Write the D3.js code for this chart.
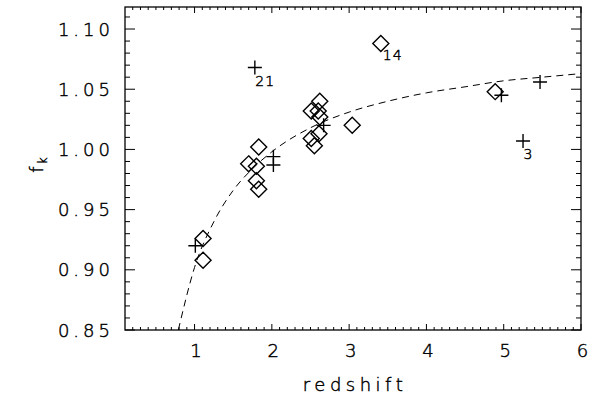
<!DOCTYPE html>
<html>
<head>
<meta charset="utf-8">
<script src="https://cdn.jsdelivr.net/npm/d3@7"></script>
<style>
  body { margin: 0; background: #fff; }
  text { font-family: "DejaVu Sans", sans-serif; font-weight: 200; fill: #000; stroke: #000; stroke-width: 0.45px; }
</style>
</head>
<body>
<svg id="chart"></svg>
<script>
// diamonds (redshift, f_k)
const diamondZ = [1.11, 1.11, 1.70, 1.80, 1.83, 1.80, 1.83, 2.62, 2.51, 2.60, 2.62, 2.61, 2.51, 2.55, 3.04, 3.41, 4.89];
const diamondF = [0.926, 0.908, 0.988, 0.986, 1.002, 0.974, 0.967, 1.040, 1.032, 1.032, 1.027, 1.013, 1.009, 1.003, 1.020, 1.088, 1.048];
const diamondLabel = ["", "", "", "", "", "", "", "", "", "", "", "", "", "", "", "14", ""];
// crosses
const crossZ = [1.01, 1.78, 2.02, 2.02, 2.67, 4.97, 5.47, 5.25];
const crossF = [0.920, 1.068, 0.994, 0.987, 1.020, 1.045, 1.056, 1.007];
const crossLabel = ["", "21", "", "", "", "", "", "3"];
// dashed model curve
const curveZ = [0.79, 1.0, 1.25, 1.5, 1.75, 2.0, 2.5, 3.0, 3.5, 4.0, 4.5, 5.0, 5.5, 6.0];
const curveF = [0.850, 0.902, 0.940, 0.966, 0.984, 0.998, 1.018, 1.031, 1.040, 1.047, 1.052, 1.057, 1.060, 1.063];
const xTicks = [1, 2, 3, 4, 5, 6];
const yTicks = [0.85, 0.90, 0.95, 1.00, 1.05, 1.10];

var w = 592, h = 409;
var pL = 125, pR = 581, pT = 7, pB = 330;
var svg = d3.select("#chart").attr("width", w).attr("height", h);

var x = d3.scaleLinear().domain([0.1, 6]).range([pL, pR]);
var y = d3.scaleLinear().domain([0.85, 1.1183]).range([pB, pT]);

// clip
svg.append("clipPath").attr("id", "clip")
  .append("rect").attr("x", pL).attr("y", pT)
  .attr("width", pR - pL).attr("height", pB - pT);

// ticks (inward, all four sides)
var xMinor = d3.range(2, 61).map(d => d / 10);
var yMinor = d3.range(85, 112).map(d => d / 100);
var tk = svg.append("g").attr("stroke", "#000").attr("stroke-width", 1);
xMinor.forEach(v => {
  var major = Math.abs(v - Math.round(v)) < 1e-6;
  var len = major ? 6 : 3;
  tk.append("line").attr("x1", x(v)).attr("x2", x(v)).attr("y1", pB).attr("y2", pB - len);
  tk.append("line").attr("x1", x(v)).attr("x2", x(v)).attr("y1", pT).attr("y2", pT + len);
});
yMinor.forEach(v => {
  var major = Math.abs(v * 20 - Math.round(v * 20)) < 1e-6;
  var len = major ? 10 : 5;
  tk.append("line").attr("y1", y(v)).attr("y2", y(v)).attr("x1", pL).attr("x2", pL + len);
  tk.append("line").attr("y1", y(v)).attr("y2", y(v)).attr("x1", pR).attr("x2", pR - len);
});

svg.append("rect").attr("x", pL).attr("y", pT)
  .attr("width", pR - pL).attr("height", pB - pT)
  .attr("fill", "none").attr("stroke", "#000").attr("stroke-width", 1.3);

// tick labels
svg.selectAll(".xt").data(xTicks).enter().append("text")
  .attr("x", d => x(d) + 1.5).attr("y", 357)
  .attr("text-anchor", "middle").attr("font-size", 18)
  .text(d => d);
svg.selectAll(".yt").data(yTicks).enter().append("text")
  .attr("x", 114).attr("y", d => y(d) + 6.5)
  .attr("text-anchor", "end").attr("font-size", 18)
  .attr("letter-spacing", 4)
  .text(d => d.toFixed(2));

svg.append("text").attr("x", (pL + pR) / 2 + 2).attr("y", 391)
  .attr("text-anchor", "middle").attr("font-size", 18)
  .attr("letter-spacing", 4.5).text("redshift");
var yl = svg.append("text").attr("transform", "translate(43,165) rotate(-90)")
  .attr("text-anchor", "middle").attr("font-size", 18);
yl.append("tspan").text("f");
yl.append("tspan").attr("font-size", 12).attr("dx", 2).attr("dy", 4).text("k");

var plot = svg.append("g").attr("clip-path", "url(#clip)");

// dashed curve
var curve = curveZ.map((z, i) => [z, curveF[i]]);
plot.append("path").datum(curve)
  .attr("fill", "none").attr("stroke", "#000").attr("stroke-width", 1)
  .attr("stroke-dasharray", "7,5")
  .attr("d", d3.line().x(d => x(d[0])).y(d => y(d[1])).curve(d3.curveMonotoneX));

// diamonds
var ds = 8;
plot.selectAll(".dia").data(diamondZ).enter().append("path")
  .attr("fill", "none").attr("stroke", "#000").attr("stroke-width", 1.4)
  .attr("d", (d, i) => {
    var cx = x(d), cy = y(diamondF[i]);
    return "M" + cx + "," + (cy - ds) + "L" + (cx + ds) + "," + cy + "L" + cx + "," + (cy + ds) + "L" + (cx - ds) + "," + cy + "Z";
  });

// crosses
var cs = 7;
plot.selectAll(".crs").data(crossZ).enter().append("path")
  .attr("fill", "none").attr("stroke", "#000").attr("stroke-width", 1.4)
  .attr("d", (d, i) => {
    var cx = x(d), cy = y(crossF[i]);
    return "M" + (cx - cs) + "," + cy + "H" + (cx + cs) + "M" + cx + "," + (cy - cs) + "V" + (cy + cs);
  });

// labels
svg.selectAll(".cl").data(crossZ).enter().append("text")
  .attr("x", d => x(d) + 0.5).attr("y", (d, i) => y(crossF[i]) + 18)
  .attr("font-size", 14).attr("letter-spacing", 1).text((d, i) => crossLabel[i]);
svg.selectAll(".dl").data(diamondZ).enter().append("text")
  .attr("x", d => x(d) + 2).attr("y", (d, i) => y(diamondF[i]) + 17)
  .attr("font-size", 14).attr("letter-spacing", 1).text((d, i) => diamondLabel[i]);
</script>
</body>
</html>
